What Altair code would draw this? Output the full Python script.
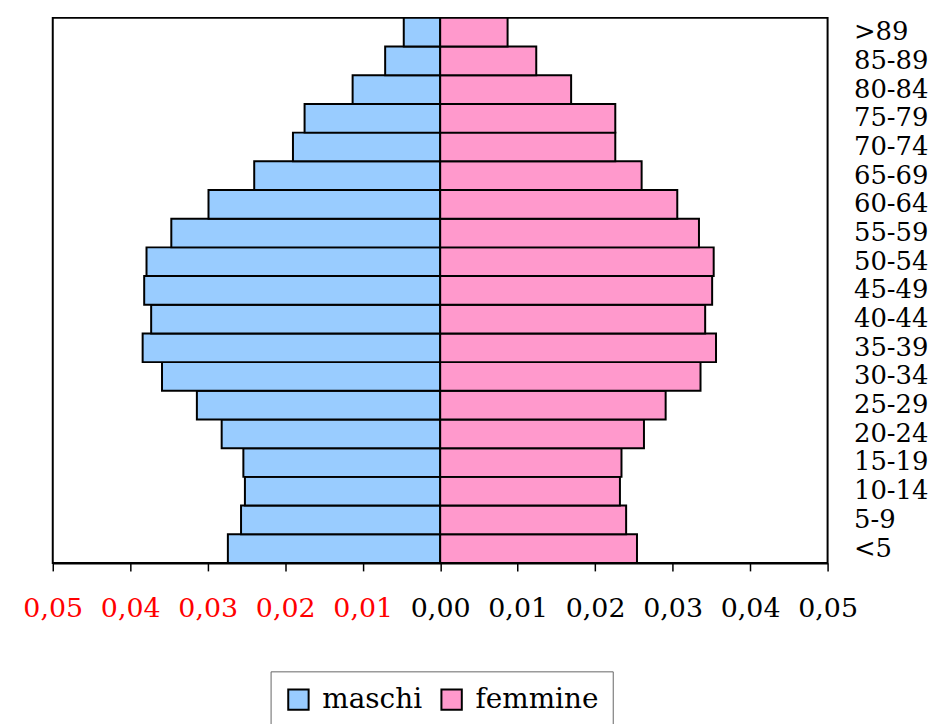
import altair as alt
import pandas as pd

ages = ["<5", "5-9", "10-14", "15-19", "20-24", "25-29", "30-34", "35-39", "40-44",
        "45-49", "50-54", "55-59", "60-64", "65-69", "70-74", "75-79", "80-84", "85-89", ">89"]
maschi = [0.0274, 0.0257, 0.0252, 0.0254, 0.0282, 0.0314, 0.0359, 0.0384, 0.0373,
          0.0382, 0.0379, 0.0347, 0.0299, 0.0240, 0.0190, 0.0175, 0.0113, 0.0071, 0.0047]
femmine = [0.0254, 0.0240, 0.0232, 0.0234, 0.0263, 0.0291, 0.0336, 0.0356, 0.0342,
           0.0351, 0.0353, 0.0334, 0.0306, 0.0260, 0.0226, 0.0226, 0.0169, 0.0124, 0.0087]
sexes = ["maschi", "femmine"]
colors = ["#99CCFF", "#FF99CC"]
ticks = [-0.05, -0.04, -0.03, -0.02, -0.01, 0.0, 0.01, 0.02, 0.03, 0.04, 0.05]

rows = []
for a, m, f in zip(ages, maschi, femmine):
    rows.append({"age": a, "sex": "maschi", "value": -m})
    rows.append({"age": a, "sex": "femmine", "value": f})
df = pd.DataFrame(rows)

FONT = "DejaVu Serif"

chart = alt.Chart(df).mark_bar(stroke="black", strokeWidth=2).encode(
    x=alt.X("value:Q", stack=None,
            scale=alt.Scale(domain=[-0.05, 0.05], nice=False, zero=False),
            axis=alt.Axis(values=ticks, title=None, grid=False, tickSize=8,
                          tickColor="black", tickWidth=1.5, domainColor="black",
                          domainWidth=2, labelFontSize=27, labelFont=FONT,
                          labelPadding=25,
                          labelExpr="replace(format(abs(datum.value), '.2f'), '.', ',')",
                          labelColor={"condition": {"test": "datum.value < 0", "value": "#FF0000"},
                                      "value": "black"},
                          labelFlush=False, labelOverlap=False)),
    y=alt.Y("age:N", sort=list(reversed(ages)),
            scale=alt.Scale(paddingInner=0, paddingOuter=0),
            axis=alt.Axis(orient="right", title=None, ticks=False, domain=False,
                          labelFontSize=26, labelFont=FONT, labelColor="black",
                          labelPadding=26, labelAlign="left")),
    color=alt.Color("sex:N", scale=alt.Scale(domain=sexes, range=colors),
                    legend=alt.Legend(title=None, orient="none", legendX=219, legendY=657,
                                      direction="horizontal", symbolType="square",
                                      symbolSize=420, symbolStrokeColor="black",
                                      symbolStrokeWidth=2, labelFontSize=28,
                                      labelFont=FONT, labelColor="black",
                                      labelOffset=10, columnPadding=14,
                                      strokeColor="#666666", padding=14,
                                      fillColor="white")),
).properties(
    width=779, height=548,
    autosize=alt.AutoSizeParams(type="none"),
    padding={"left": 45, "top": 8, "right": 110, "bottom": 160},
).configure_view(
    stroke="black", strokeWidth=2
)

chart.save("out.html", embed_options={"renderer": "svg", "actions": False})
